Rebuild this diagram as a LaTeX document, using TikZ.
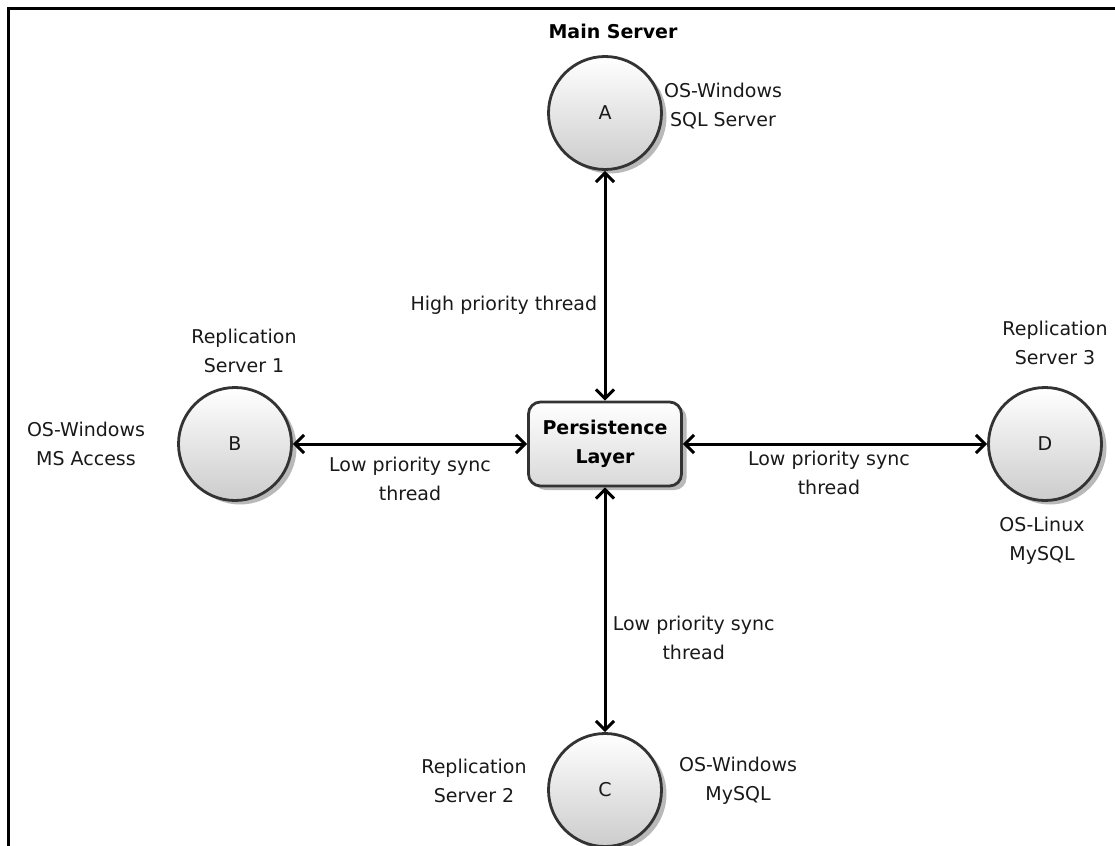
\documentclass[tikz,border=0pt]{standalone}
\usepackage{fontspec}
\setmainfont{DejaVu Sans}
\usetikzlibrary{arrows.meta,positioning,shadows}

\begin{document}
\begin{tikzpicture}[
  x=1pt, y=-1pt,
  every node/.style={font=\fontsize{19}{29}\selectfont, align=center, text=black!90},
  server/.style={circle, draw=black!80, line width=2.8pt, minimum size=113pt, top color=white, bottom color=gray!40, drop shadow={shadow xshift=5pt, shadow yshift=-4pt, fill=gray!55, opacity=1}},
  layer/.style={draw=black!80, line width=2.8pt, rounded corners=12pt, minimum width=153pt, minimum height=84pt, top color=white, bottom color=gray!30, font=\fontsize{19}{29}\selectfont\bfseries, text=black, drop shadow={shadow xshift=5pt, shadow yshift=-4pt, fill=gray!55, opacity=1}},
  link/.style={line width=3pt, {Straight Barb[length=9pt,width=18pt]}-{Straight Barb[length=9pt,width=18pt]}}
]
\useasboundingbox (0,0) rectangle (1115,845);
% frame
\draw[line width=3pt] (8,846) -- (8,9) -- (1116,9);

\node[server] (A) at (605,113) {A};
\node[server] (B) at (235,444) {B};
\node[server] (C) at (605,790) {C};
\node[server] (D) at (1045,444) {D};
\node[layer] (P) at (605,444) {Persistence\\Layer};

% labels
\node[font=\fontsize{19}{29}\selectfont\bfseries, text=black] (mainlbl) at (613,31) {Main Server};
\node (osA) at (723,106) {OS-Windows\\SQL Server};
\node (repB) at (244,351) {Replication\\Server 1};
\node (osB) at (86,444) {OS-Windows\\MS Access};
\node (repD) at (1055,343) {Replication\\Server 3};
\node (osD) at (1042,541) {OS-Linux\\MySQL};
\node (repC) at (474,781) {Replication\\Server 2};
\node (osC) at (738,781) {OS-Windows\\MySQL};

\draw[link] (A) -- (P) node[pos=0.585, left=3pt] {High priority thread};
\draw[link] (B) -- (P) node[midway, below=8pt] {Low priority sync\\thread};
\draw[link] (P) -- (D) node[pos=0.48, below=2pt] {Low priority sync\\thread};
\draw[link] (P) -- (C) node[pos=0.615, right=3pt] {Low priority sync\\thread};
\end{tikzpicture}
\end{document}
